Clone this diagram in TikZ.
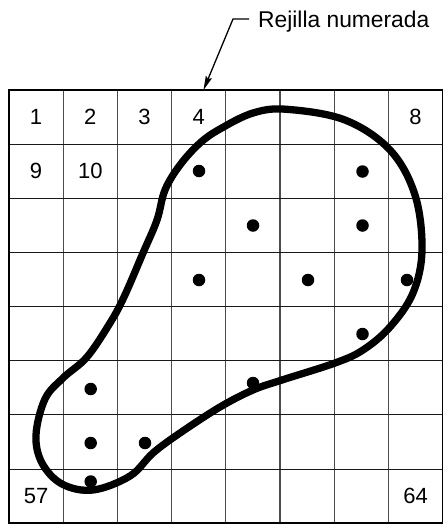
\documentclass[tikz,border=0pt]{standalone}
\usepackage{fontspec}
\setmainfont{Liberation Sans}
\usetikzlibrary{arrows.meta}
\begin{document}
\begin{tikzpicture}[x=1pt,y=-1pt,
  num/.style={font=\fontsize{22}{24}\selectfont, inner sep=0pt},
  lbltext/.style={font=\fontsize{22.8}{25}\selectfont, inner sep=0pt},
  dotmark/.style={circle, fill=black, inner sep=0pt, minimum size=12.5pt},
  vline/.style={line width=1.1pt, black!70},
  hline/.style={line width=1.1pt, black!90},
  border/.style={line width=2pt, black},
  blob/.style={line width=7.3pt, black},
  leader/.style={line width=1.3pt, -{Stealth[length=14pt,width=6.5pt,inset=2pt]}}]
\useasboundingbox (0,0) rectangle (442,525);
% grid
\foreach \i in {1,...,7} \draw[vline] ({9+54.2*\i},90) -- ({9+54.2*\i},523.2);
\foreach \j in {1,...,7} \draw[hline] (9,{90+54.15*\j}) -- (442.6,{90+54.15*\j});
\draw[border] (9,90) rectangle (442.6,523.2);
% numbers
\foreach \c/\r/\t in {0/0/1,1/0/2,2/0/3,3/0/4,7/0/8,0/1/9,1/1/10,0/7/57,7/7/64}
  \node[num] (n\t) at ({9+54.2*(\c+0.5)},{90+54.15*(\r+0.5)}) {\t};
% dots
\foreach \x/\y [count=\k] in {199/171, 199/280, 362.5/171.5, 253/225.5, 362.5/225.5, 308/280, 407/280, 362.5/334, 253/383, 90.7/389, 90.7/443, 145/443, 90.7/481.5}
  \node[dotmark] (d\k) at (\x,\y) {};
% closed curve
\draw[blob] plot[smooth cycle, tension=0.6] coordinates {
 (286.7,109.3) (345,120) (390,150) (415,195) (422,250) (413,293) (390,327)
 (363,350) (335,363) (282,380) (253,390) (220,407) (180,433) (153,453)
 (130,476) (93,490) (62,484) (42,463) (36,435) (45,399) (63,378) (87,357)
 (110,323) (124,297) (143,253) (157,220) (165,190) (180,165) (200,143)
 (220,129) (253,113)};
% label and leader
\node[lbltext, anchor=base west] (lbl) at (258,27.3) {Rejilla numerada};
\coordinate (lbar) at (249,19);
\coordinate (bend) at (233,19);
\coordinate (tip) at (203.5,90);
\draw[leader] (lbar) -- (bend) -- (tip);
\end{tikzpicture}
\end{document}
